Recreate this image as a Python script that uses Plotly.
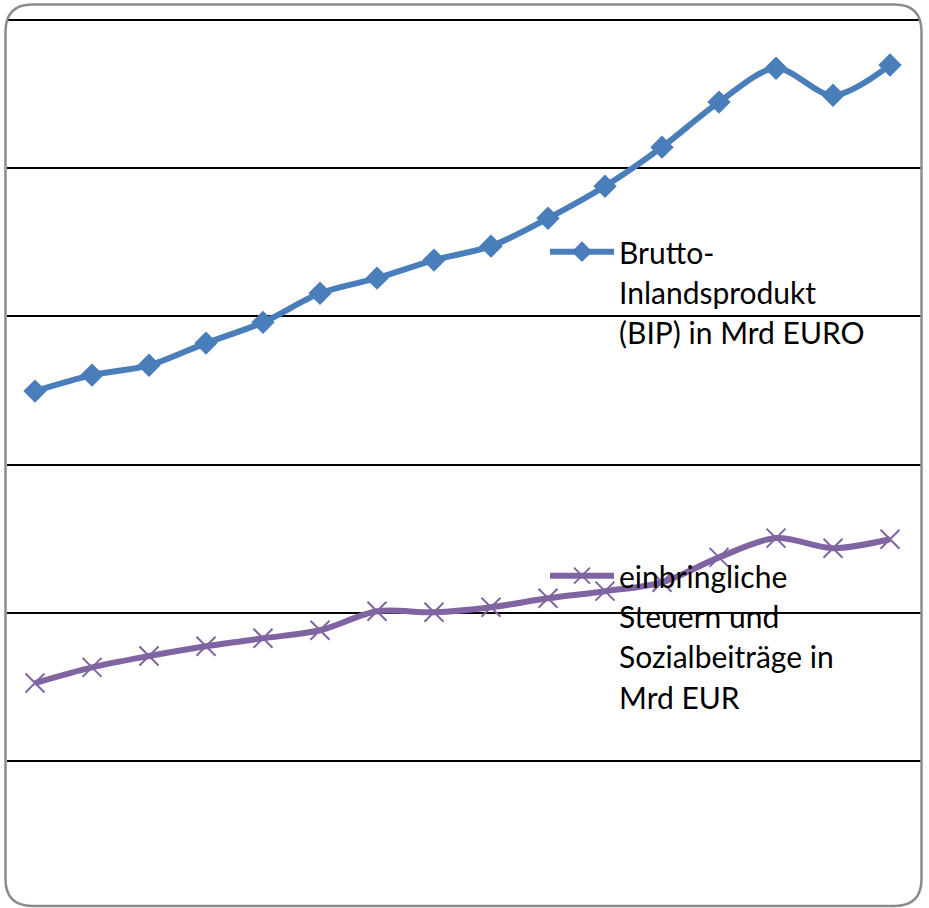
import plotly.graph_objects as go

# ---- data ----
years = list(range(1995, 2011))
bip = [174.8, 180.2, 183.5, 191.0, 198.0, 207.8, 212.9, 219.0, 223.7, 233.1,
       243.9, 257.1, 272.3, 283.7, 274.6, 284.8]
steuern = [76.3, 81.6, 85.4, 88.7, 91.4, 94.1, 100.5, 100.2, 101.9, 104.9,
           107.3, 110.3, 118.7, 125.2, 121.8, 124.8]
name_bip = "Brutto-<br>Inlandsprodukt<br>(BIP) in Mrd EURO"
name_st = "einbringliche<br>Steuern und<br>Sozialbeiträge in<br>Mrd EUR"
y_ticks = [50, 100, 150, 200, 250, 300]

W, H = 929, 908
FONT = "Lato"
GLYPH = 30


def span(t):
    s = '<span style="font-size:%dpx">' % GLYPH
    return s + t.replace("<br>", "</span><br>" + s) + "</span>"


fig = go.Figure()
fig.add_trace(go.Scatter(
    x=years, y=bip, name=span(name_bip), mode="lines+markers",
    line=dict(color="#4A7EBB", width=6, shape="spline", smoothing=0.9),
    marker=dict(symbol="diamond", size=18, color="#4A7EBB"),
    legend="legend"))
fig.add_trace(go.Scatter(
    x=years, y=steuern, name=span(name_st), mode="lines+markers",
    line=dict(color="#8064A2", width=6, shape="spline", smoothing=0.9),
    marker=dict(symbol="x-thin", size=19, color="#8064A2",
                line=dict(color="#8064A2", width=2)),
    legend="legend2"))


def px2paper(x, y):
    return x / W, 1 - y / H


def rounded_rect(l, t, r, b, rad):
    def P(x, y):
        px, py = px2paper(x, y)
        return "%.5f,%.5f" % (px, py)
    return ("M" + P(l + rad, t) + " L" + P(r - rad, t) + " Q" + P(r, t) + " " + P(r, t + rad) +
            " L" + P(r, b - rad) + " Q" + P(r, b) + " " + P(r - rad, b) +
            " L" + P(l + rad, b) + " Q" + P(l, b) + " " + P(l, b - rad) +
            " L" + P(l, t + rad) + " Q" + P(l, t) + " " + P(l + rad, t) + " Z")


fig.add_shape(type="path", xref="paper", yref="paper",
              path=rounded_rect(5.5, 4.5, 921.5, 906, 27),
              line=dict(color="#8C8C8C", width=2.5), layer="above")

x0 = years[0] + (7 - 35) / 57
x1 = years[0] + (921 - 35) / 57
fig.update_layout(
    width=W, height=H,
    margin=dict(l=0, r=0, t=0, b=0),
    paper_bgcolor="white", plot_bgcolor="white",
    font=dict(family=FONT, color="black"),
    xaxis=dict(domain=[7 / W, 921 / W], range=[x0, x1], visible=False),
    yaxis=dict(range=[1.2 / 148.2 * 50, 909.2 / 148.2 * 50], tickvals=y_ticks,
               showgrid=True, gridcolor="black", gridwidth=1.6,
               showticklabels=False, zeroline=False, showline=False, ticks=""),
    legend=dict(x=545 / W, y=1 - 225 / H, xanchor="left", yanchor="top",
                bgcolor="rgba(0,0,0,0)", font=dict(family=FONT, size=31, color="black"),
                itemwidth=64, valign="top", tracegroupgap=0),
    legend2=dict(x=545 / W, y=1 - 549 / H, xanchor="left", yanchor="top",
                 bgcolor="rgba(0,0,0,0)", font=dict(family=FONT, size=31, color="black"),
                 itemwidth=64, valign="top", tracegroupgap=0),
    showlegend=True,
)

fig.write_html("out.html", config={"displayModeBar": False},
               post_script="document.body.style.margin='0px';document.body.style.overflow='hidden';")
